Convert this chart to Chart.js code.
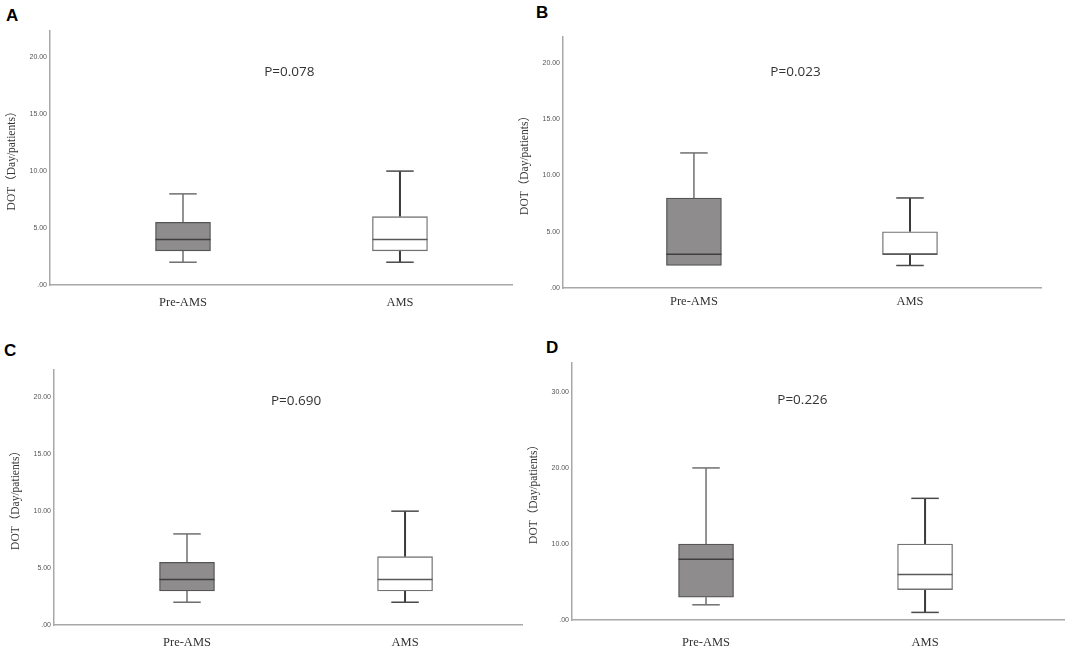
<!DOCTYPE html>
<html><head><meta charset="utf-8">
<script src="https://cdn.jsdelivr.net/npm/chart.js@4"></script>
<style>
html,body{margin:0;padding:0;background:#fff;}
body{width:1065px;height:655px;position:relative;overflow:hidden;}
canvas{position:absolute;}
.letter{position:absolute;font:bold 17px "Liberation Sans",Arial,sans-serif;color:#000;line-height:20px;}
</style></head><body>
<script>
// ---- data ----
const categories = ['Pre-AMS', 'AMS'];
const panelLetters = ['A', 'B', 'C', 'D'];
const pValues = ['P=0.078', 'P=0.023', 'P=0.690', 'P=0.226'];
const yTicksABC = [0, 5, 10, 15, 20];
const yTicksD = [0, 10, 20, 30];
// five-number summaries: [min, q1, median, q3, max]
const panelA_pre = [2, 3, 4, 5.5, 8];
const panelA_ams = [2, 3, 4, 6, 10];
const panelB_pre = [2, 2, 3, 8, 12];
const panelB_ams = [2, 3, 3, 5, 8];
const panelC_pre = [2, 3, 4, 5.5, 8];
const panelC_ams = [2, 3, 4, 6, 10];
const panelD_pre = [2, 3, 8, 10, 20];
const panelD_ams = [1, 4, 6, 10, 16];

// ---- layout / styling per panel ----
const panels = [
  {stats:[panelA_pre, panelA_ams], p:pValues[0], ticks:yTicksABC, yMax:22.3,
   box:{left:0, top:0, w:513, h:328}, padTop:31, xAxisH:43, xMin:0.387, xMax:2.521, labelPad:10, pPos:{x:1.49, y:18.7},
   letter:{left:6, top:6}},
  {stats:[panelB_pre, panelB_ams], p:pValues[1], ticks:yTicksABC, yMax:22.3,
   box:{left:513, top:0, w:529, h:328}, padTop:37, xAxisH:40, xMin:0.394, xMax:2.611, labelPad:6, pPos:{x:1.47, y:19.2},
   letter:{left:536, top:3}},
  {stats:[panelC_pre, panelC_ams], p:pValues[2], ticks:yTicksABC, yMax:22.4,
   box:{left:4, top:330, w:519, h:325}, padTop:40, xAxisH:30, xMin:0.390, xMax:2.541, labelPad:10, pPos:{x:1.5, y:19.7},
   letter:{left:4, top:341}},
  {stats:[panelD_pre, panelD_ams], p:pValues[3], ticks:yTicksD, yMax:33.8,
   box:{left:522, top:330, w:543, h:325}, padTop:33, xAxisH:35, xMin:0.388, xMax:2.639, labelPad:15, pPos:{x:1.44, y:28.9},
   letter:{left:546, top:338}}
];

const boxPlugin = {
  id: 'boxWhisk',
  beforeDatasetsDraw(chart, args, opts) {
    const meta = chart.getDatasetMeta(0);
    const ys = chart.scales.y;
    const ctx = chart.ctx;
    opts.stats.forEach((s, i) => {
      const el = meta.data[i];
      const x = el.x, half = el.width / 4;
      ctx.save();
      ctx.strokeStyle = opts.whiskerColors[i];
      ctx.lineWidth = opts.whiskerWidths[i];
      const seg = (a, b) => {
        if (a === b) return;
        ctx.beginPath();
        ctx.moveTo(x, ys.getPixelForValue(a));
        ctx.lineTo(x, ys.getPixelForValue(b));
        ctx.stroke();
      };
      const cap = (v, ref) => {
        if (v === ref) return;
        ctx.beginPath();
        ctx.moveTo(x - half, ys.getPixelForValue(v));
        ctx.lineTo(x + half, ys.getPixelForValue(v));
        ctx.stroke();
      };
      seg(s[0], s[1]); seg(s[3], s[4]);
      ctx.strokeStyle = opts.capColors[i];
      ctx.lineWidth = 1.5;
      cap(s[0], s[1]); cap(s[4], s[3]);
      ctx.restore();
    });
  },
  afterDatasetsDraw(chart, args, opts) {
    const meta = chart.getDatasetMeta(0);
    const xs = chart.scales.x, ys = chart.scales.y;
    const ctx = chart.ctx;
    opts.stats.forEach((s, i) => {
      const el = meta.data[i];
      const y = ys.getPixelForValue(s[2]);
      ctx.save();
      ctx.strokeStyle = opts.medianColors[i];
      ctx.lineWidth = 1.5;
      ctx.beginPath();
      ctx.moveTo(el.x - el.width / 2, y);
      ctx.lineTo(el.x + el.width / 2, y);
      ctx.stroke();
      ctx.restore();
    });
    ctx.save();
    ctx.font = '13.5px "Open Sans", "Liberation Sans", sans-serif';
    ctx.fillStyle = '#333';
    ctx.textAlign = 'center';
    ctx.textBaseline = 'middle';
    ctx.fillText(opts.p, xs.getPixelForValue(opts.pPos.x), ys.getPixelForValue(opts.pPos.y));
    ctx.restore();
  }
};

panels.forEach((P, idx) => {
  const lt = document.createElement('div');
  lt.className = 'letter';
  lt.style.left = P.letter.left + 'px';
  lt.style.top = P.letter.top + 'px';
  lt.textContent = panelLetters[idx];
  document.body.appendChild(lt);

  const cv = document.createElement('canvas');
  cv.width = P.box.w; cv.height = P.box.h;
  cv.style.left = P.box.left + 'px'; cv.style.top = P.box.top + 'px';
  cv.style.width = P.box.w + 'px'; cv.style.height = P.box.h + 'px';
  document.body.appendChild(cv);

  new Chart(cv, {
    type: 'bar',
    data: {
      datasets: [{
        data: P.stats.map((s, i) => ({x: i + 1, y: [s[1], s[3]]})),
        backgroundColor: ['#8e8c8c', '#ffffff'],
        borderColor: ['#555555', '#727272'],
        borderWidth: 1.3,
        borderSkipped: false,
        barThickness: 55
      }]
    },
    options: {
      responsive: false,
      animation: false,
      events: [],
      layout: {padding: {top: P.padTop, left: 0, right: 0, bottom: 0}},
      plugins: {
        legend: {display: false},
        tooltip: {enabled: false},
        boxWhisk: {
          stats: P.stats, p: P.p, pPos: P.pPos,
          whiskerColors: ['#6f6f6f', '#3a3a3a'],
          whiskerWidths: [1.5, 2],
          capColors: ['#6f6f6f', '#4a4a4a'],
          medianColors: ['#3e3e3e', '#5a5a5a']
        }
      },
      scales: {
        x: {
          type: 'linear',
          offset: false,
          min: P.xMin, max: P.xMax,
          grid: {display: false, drawTicks: false, offset: false},
          border: {display: true, color: '#a8a8a8', width: 1.5},
          afterBuildTicks: s => { s.ticks = categories.map((c, i) => ({value: i + 1})); },
          afterFit: s => { s.height = P.xAxisH; },
          ticks: {
            padding: P.labelPad,
            autoSkip: false,
            maxRotation: 0,
            color: '#333',
            font: {family: '"Liberation Serif", "Times New Roman", serif', size: 12.5},
            callback: v => categories[Math.round(v) - 1]
          }
        },
        y: {
          min: 0, max: P.yMax,
          grid: {display: false, drawTicks: false},
          border: {display: true, color: '#a8a8a8', width: 1.5},
          afterBuildTicks: s => { s.ticks = P.ticks.map(v => ({value: v})); },
          afterFit: s => { s.width = 50; },
          ticks: {
            padding: 3,
            color: '#555',
            font: {family: '"Liberation Sans", Arial, sans-serif', size: 7},
            callback: v => v === 0 ? '.00' : Number(v).toFixed(2)
          },
          title: {
            display: true,
            text: 'DOT（Day/patients）',
            color: '#333',
            font: {family: '"Liberation Serif", "Noto Sans CJK SC", serif', size: 11.5},
            padding: {top: 5, bottom: 0}
          }
        }
      }
    },
    plugins: [boxPlugin]
  });
});
</script>
</body></html>
